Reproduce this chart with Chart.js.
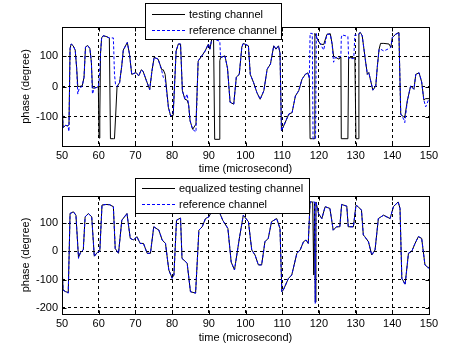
<!DOCTYPE html>
<html><head><meta charset="utf-8">
<script src="https://cdn.jsdelivr.net/npm/chart.js@4.4.1/dist/chart.umd.min.js"></script>
<style>
html,body{margin:0;padding:0;background:#fff;width:474px;height:355px;overflow:hidden}
.c{position:absolute;left:0}
</style></head><body>
<div class="c" style="top:0;width:474px;height:177px"><canvas id="topChart" width="474" height="177"></canvas></div>
<div class="c" style="top:177px;width:474px;height:178px"><canvas id="botChart" width="474" height="178"></canvas></div>
<script>
// ---- data ----
const xTicks = [50,60,70,80,90,100,110,120,130,140,150];
const topYTicks = [-100,0,100];
const botYTicks = [-200,-100,0,100];
const xLabel = 'time (microsecond)';
const yLabel = 'phase (degree)';
const topLegend = ['testing channel','reference channel'];
const botLegend = ['equalized testing channel','reference channel'];

const topTime = [
 50.0,50.3,51.0,51.6,51.9,52.2,52.5,53.0,53.6,54.0,
 54.3,54.7,55.5,56.0,56.4,57.0,57.6,58.0,58.3,58.8,
 59.5,59.9,60.1,60.3,60.5,60.8,61.2,62.0,62.9,63.2,
 64.0,64.3,64.6,65.0,65.7,66.3,66.7,67.8,68.4,69.0,
 70.2,70.9,71.6,72.1,73.0,73.9,74.5,75.1,76.2,77.2,
 77.6,78.1,79.0,79.6,80.3,81.1,81.7,82.3,82.8,83.5,
 84.1,84.5,84.9,85.6,86.5,87.1,88.1,89.0,89.9,90.3,
 90.8,91.3,91.6,92.8,93.0,93.2,94.4,95.1,95.8,96.8,
 97.5,98.3,99.0,99.4,100.8,101.3,102.2,103.1,104.0,105.0,
 105.9,106.8,107.7,108.3,109.0,109.4,109.8,110.4,111.8,112.7,
 113.6,114.5,115.4,116.3,117.0,117.4,117.6,118.2,118.4,118.7,
 118.9,119.1,119.3,119.6,120.4,121.3,122.2,123.1,123.6,124.0,
 124.5,125.5,126.0,126.1,126.3,127.9,128.1,128.5,129.5,129.8,
 130.1,130.4,130.7,130.9,131.3,131.8,132.7,133.2,133.6,134.1,
 134.7,135.5,135.9,136.4,136.8,137.7,139.1,139.6,140.0,140.9,
 141.8,142.3,143.2,143.4,144.1,145.0,145.9,146.4,147.3,148.0,
 148.6,149.1,150.0];
const topReference = [
 -45,-135,-128,-130,-148,125,140,135,120,60,
 -25,-5,0,30,130,135,125,80,-25,-5,
 -3,0,20,60,110,160,167,165,160,160,
 160,40,5,0,13,70,120,145,106,40,
 46,35,55,50,19,-10,50,96,90,51,
 30,24,-69,-97,-86,117,140,140,-14,-42,
 -25,-60,-113,-141,-150,84,101,117,140,123,
 156,156,155,150,150,96,101,60,-52,-58,
 31,40,130,142,134,40,13,-20,-42,-14,
 57,74,134,123,134,110,-146,-130,-91,-86,
 -31,-14,24,40,45,27,175,175,-172,-172,
 -172,-172,175,155,140,120,172,172,140,80,
 96,95,100,160,170,165,92,92,92,170,
 170,168,170,172,178,167,84,40,46,19,
 -12,2,63,123,123,117,125,129,161,172,
 178,-91,-110,-119,-47,2,-9,40,45,15,
 -45,-67,-40];
const topTesting = [
 -45,-135,-128,-130,-125,125,140,135,120,60,
 0,0,2,30,130,135,125,80,-5,-5,
 -3,0,-170,-100,110,160,167,165,160,-172,
 -172,-172,-100,0,13,70,120,145,106,40,
 46,35,55,50,19,-10,50,96,90,55,
 55,40,-69,-97,-95,117,140,140,-14,-42,
 -45,-60,-113,-141,-124,84,101,117,140,123,
 156,156,-174,-174,85,95,101,60,-52,-58,
 31,40,130,142,134,40,13,-20,-42,-14,
 57,74,134,123,134,110,-146,-130,-91,-86,
 -31,-14,24,40,45,27,-172,-172,-172,-172,
 175,168,165,155,140,138,172,174,140,100,
 96,90,97,-172,-172,-172,95,95,95,95,
 -172,-172,-172,175,178,167,84,40,46,19,
 -12,2,63,123,142,142,140,129,161,172,
 178,-91,-102,-100,-47,2,-9,40,45,15,
 -45,-40,-40];

const botTime = [
 50.0,50.3,51.0,51.7,52.2,53.1,53.8,54.5,55.0,55.8,
 56.3,57.2,58.1,58.8,59.6,60.3,60.9,62.0,63.0,64.0,
 64.5,65.4,66.3,67.7,68.6,69.5,70.4,71.3,72.2,73.2,
 74.1,75.0,76.4,77.3,78.2,79.1,80.0,80.5,81.2,82.3,
 82.7,84.1,85.0,86.4,87.3,88.2,89.1,90.0,91.0,92.4,
 93.8,95.2,96.1,97.0,98.4,99.4,100.8,101.7,102.6,103.5,
 104.4,105.3,106.2,107.1,108.5,109.4,109.9,110.3,111.7,112.6,
 114.0,114.9,115.8,116.5,117.1,117.6,118.3,118.6,118.8,119.0,
 119.2,119.9,120.8,121.7,123.0,123.9,124.8,125.7,126.2,127.6,
 128.0,129.4,130.1,130.7,131.6,132.1,132.5,133.5,134.4,135.3,
 136.2,137.6,139.4,140.3,141.6,142.1,142.6,143.5,144.4,145.3,
 146.2,147.1,148.0,148.9,149.8,150.0];
const botReference = [
 -48,-137,-143,-148,134,140,128,-25,-5,5,
 122,134,122,-19,-4,0,164,166,165,158,
 10,-7,110,134,46,40,52,28,28,-7,
 -7,87,75,40,28,-66,-96,-84,110,118,
 -25,-42,-143,-148,75,87,116,122,146,154,
 110,81,-38,-66,52,128,105,5,-13,-48,
 -48,34,46,105,116,81,-143,-137,-96,-84,
 -7,5,34,40,28,175,175,175,175,-185,
 175,134,116,158,152,75,87,87,166,160,
 87,87,163,158,146,58,52,34,-13,5,
 116,128,116,158,175,152,-96,-119,-7,0,
 28,52,46,-48,-60,-55];
const botEqualized = [
 -48,-137,-143,-146,134,140,128,-22,-5,5,
 122,134,122,-17,-4,0,164,166,165,158,
 10,-7,110,134,46,40,52,28,28,-7,
 -7,87,75,40,28,-66,-94,-84,110,118,
 -25,-42,-143,-148,75,87,116,122,146,154,
 110,81,-38,-66,52,128,105,5,-13,-48,
 -48,34,46,105,116,81,-143,-137,-96,-84,
 -7,5,34,40,28,175,175,-84,170,-180,
 175,134,116,158,152,75,87,87,166,160,
 87,87,163,158,146,58,52,34,-13,5,
 116,128,116,158,175,152,-96,-116,-7,0,
 28,52,46,-48,-58,-55];

// ---- drawing ----
Chart.defaults.font.family = '"Liberation Sans", Arial, Helvetica, sans-serif';
Chart.defaults.font.size = 11;
Chart.defaults.color = '#000';

const boxPlugin = {
  id: 'mbox',
  afterDatasetsDraw(chart) {
    const {ctx, chartArea: a, scales} = chart;
    ctx.save();
    ctx.strokeStyle = '#000';
    ctx.lineWidth = 1;
    ctx.setLineDash([]);
    const L = Math.round(a.left) + 0.5, R = Math.round(a.right) + 0.5;
    const T = Math.round(a.top) + 0.5, B = Math.round(a.bottom) + 0.5;
    ctx.strokeRect(L, T, R - L, B - T);
    ctx.beginPath();
    scales.x.ticks.forEach(t => {
      const px = Math.round(scales.x.getPixelForValue(t.value)) + 0.5;
      ctx.moveTo(px, B); ctx.lineTo(px, B - 4);
      ctx.moveTo(px, T); ctx.lineTo(px, T + 4);
    });
    scales.y.ticks.forEach(t => {
      const py = Math.round(scales.y.getPixelForValue(t.value)) + 0.5;
      ctx.moveTo(L, py); ctx.lineTo(L + 4, py);
      ctx.moveTo(R, py); ctx.lineTo(R - 4, py);
    });
    ctx.stroke();
    ctx.restore();
  },
  afterDraw(chart) {
    const o = chart.options.plugins.mlegend;
    if (!o) return;
    const ctx = chart.ctx;
    ctx.save();
    ctx.fillStyle = '#fff';
    ctx.fillRect(o.x, o.y, o.w, o.h);
    ctx.strokeStyle = '#000';
    ctx.lineWidth = 1;
    ctx.setLineDash([]);
    ctx.strokeRect(o.x + 0.5, o.y + 0.5, o.w, o.h);
    ctx.font = '11px "Liberation Sans", Arial, sans-serif';
    ctx.textBaseline = 'middle';
    ctx.fillStyle = '#000';
    chart.data.datasets.forEach((ds, i) => {
      const y = Math.round(o.rows[i]) + 0.5;
      ctx.beginPath();
      ctx.strokeStyle = ds.borderColor;
      ctx.setLineDash(ds.borderDash || []);
      ctx.moveTo(o.x1, y); ctx.lineTo(o.x2, y);
      ctx.stroke();
      ctx.fillText(ds.label, o.tx, o.rows[i] + 0.5);
    });
    ctx.restore();
  }
};

function makeChart(id, time, s1, s2, labels, yMin, yMax, yTicks, lay) {
  const pts = arr => time.map((t, i) => ({x: t, y: arr[i]}));
  return new Chart(document.getElementById(id), {
    type: 'line',
    data: {
      datasets: [
        {label: labels[0], data: pts(s1), borderColor: '#000000', borderWidth: 1,
         pointRadius: 0, tension: 0, fill: false, order: 2},
        {label: labels[1], data: pts(s2), borderColor: '#0000ff', borderWidth: 1,
         borderDash: [3, 2], pointRadius: 0, tension: 0, fill: false, order: 1}
      ]
    },
    options: {
      responsive: false, animation: false, devicePixelRatio: 1,
      layout: {padding: {left: 0, right: 45, top: lay.top, bottom: 0}},
      plugins: {legend: {display: false}, tooltip: {enabled: false}, mlegend: lay.legend},
      scales: {
        x: {
          type: 'linear', min: 50, max: 150,
          afterBuildTicks: s => { s.ticks = xTicks.map(v => ({value: v})); },
          afterFit: s => { s.height = lay.xh; },
          ticks: {padding: lay.tickPad, maxRotation: 0, autoSkip: false, color: '#000'},
          grid: {color: '#000', lineWidth: 1, drawTicks: false, tickLength: 0},
          border: {display: false, dash: [3, 3]},
          title: {display: true, text: xLabel, color: '#000', padding: {top: 0, bottom: lay.titlePad}}
        },
        y: {
          type: 'linear', min: yMin, max: yMax,
          afterBuildTicks: s => { s.ticks = yTicks.map(v => ({value: v})); },
          afterFit: s => { s.width = 62; },
          ticks: {padding: 4, color: '#000'},
          grid: {color: '#000', lineWidth: 1, drawTicks: false, tickLength: 0},
          border: {display: false, dash: [3, 3]},
          title: {display: true, text: yLabel, color: '#000', padding: {top: 19, bottom: 0}}
        }
      }
    },
    plugins: [boxPlugin]
  });
}

makeChart('topChart', topTime, topTesting, topReference, topLegend, -196, 196, topYTicks,
  {top: 27, xh: 31, tickPad: 3, titlePad: 1,
   legend: {x: 145, y: 3, w: 136, h: 36, x1: 152, x2: 185, tx: 189, rows: [14, 30]}});
makeChart('botChart', botTime, botEqualized, botReference, botLegend, -222, 196, botYTicks,
  {top: 19, xh: 41, tickPad: 3, titlePad: 10,
   legend: {x: 135, y: 1, w: 174, h: 35, x1: 142, x2: 175, tx: 179, rows: [11, 27]}});
</script>
</body></html>
